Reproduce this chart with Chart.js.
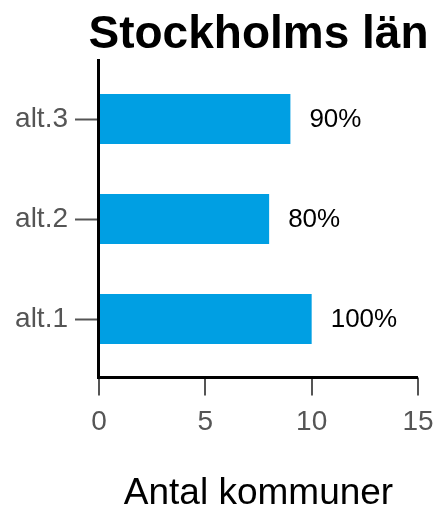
<!DOCTYPE html>
<html>
<head>
<meta charset="utf-8">
<script src="https://cdn.jsdelivr.net/npm/chart.js@4/dist/chart.umd.min.js"></script>
<style>
  html, body { margin: 0; padding: 0; background: #fff; }
  #wrap { width: 437px; height: 509px; position: relative; }
</style>
</head>
<body>
<div id="wrap"><canvas id="chart"></canvas></div>
<script>
  const categories = ["alt.3", "alt.2", "alt.1"];
  const counts = [9, 8, 10];
  const shareLabels = ["90%", "80%", "100%"];
  const xTicks = [0, 5, 10, 15];

  const FONT = "'Liberation Sans', Arial, sans-serif";
  const BLUE = "#009fe3";
  const GREY = "#555555";

  // title, axis lines, x tick marks and the % labels
  const decorations = {
    id: "decorations",
    afterDraw(chart) {
      const { ctx, chartArea, scales } = chart;
      const left = chartArea.left - 0.5;
      const bottom = chartArea.bottom + 8.5;

      ctx.save();

      ctx.fillStyle = "#000";
      ctx.font = "bold 46px " + FONT;
      ctx.textAlign = "center";
      ctx.textBaseline = "alphabetic";
      ctx.fillText("Stockholms län", (chartArea.left + chartArea.right) / 2, 48);

      ctx.strokeStyle = GREY;
      ctx.lineWidth = 2;
      xTicks.forEach((v) => {
        const px = Math.round(scales.x.getPixelForValue(v));
        ctx.beginPath();
        ctx.moveTo(px, bottom);
        ctx.lineTo(px, bottom + 18);
        ctx.stroke();
      });

      ctx.strokeStyle = "#000";
      ctx.lineWidth = 3;
      ctx.beginPath();
      ctx.moveTo(left, chartArea.top - 10);
      ctx.lineTo(left, bottom + 1.5);
      ctx.moveTo(left - 1.5, bottom);
      ctx.lineTo(chartArea.right, bottom);
      ctx.stroke();

      const meta = chart.getDatasetMeta(0);
      ctx.fillStyle = "#000";
      ctx.font = "26px " + FONT;
      ctx.textAlign = "left";
      ctx.textBaseline = "middle";
      meta.data.forEach((bar, i) => {
        ctx.fillText(shareLabels[i], bar.x + 19, bar.y + 1);
      });

      ctx.restore();
    },
  };

  new Chart(document.getElementById("chart"), {
    type: "bar",
    data: {
      labels: categories,
      datasets: [
        {
          data: counts,
          backgroundColor: BLUE,
          borderWidth: 0,
          categoryPercentage: 1,
          barPercentage: 0.5,
        },
      ],
    },
    options: {
      indexAxis: "y",
      responsive: true,
      maintainAspectRatio: false,
      animation: false,
      layout: { padding: { top: 69, right: 19, left: 0, bottom: 0 } },
      scales: {
        x: {
          min: 0,
          max: 15,
          afterFit: (scale) => {
            scale.height = 140;
            scale.paddingLeft = 0;
            scale.paddingRight = 0;
          },
          afterBuildTicks: (scale) => { scale.ticks = xTicks.map((v) => ({ value: v })); },
          grid: { display: false },
          border: { display: false },
          ticks: {
            color: GREY,
            padding: 28,
            font: { family: FONT, size: 28 },
          },
          title: {
            display: true,
            text: "Antal kommuner",
            color: "#000",
            font: { family: FONT, size: 37, lineHeight: 1 },
            padding: { top: 0, bottom: -3 },
          },
        },
        y: {
          afterFit: (scale) => {
            scale.width = 99;
            scale.paddingTop = 0;
            scale.paddingBottom = 0;
          },
          border: { display: false },
          grid: {
            display: true,
            drawOnChartArea: false,
            drawTicks: true,
            offset: false,
            tickLength: 24,
            tickColor: GREY,
            tickWidth: 2,
          },
          ticks: {
            color: GREY,
            padding: 7,
            font: { family: FONT, size: 28 },
          },
        },
      },
      plugins: {
        legend: { display: false },
        tooltip: { enabled: false },
      },
    },
    plugins: [decorations],
  });
</script>
</body>
</html>
